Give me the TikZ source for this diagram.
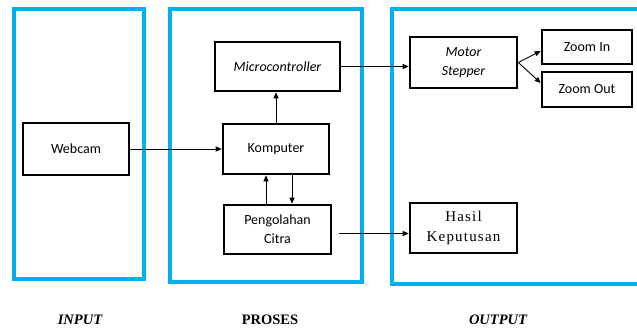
\documentclass[tikz,border=0pt]{standalone}
\usepackage{fontspec}
\setmainfont{Liberation Serif}
\newfontfamily\blokfont{Carlito}
\newfontfamily\hasilfont{Liberation Serif}[LetterSpace=8]
\usetikzlibrary{arrows.meta}
\definecolor{bingkaibiru}{RGB}{0,176,240}

\begin{document}
\begin{tikzpicture}[x=1pt,y=1pt,>={Triangle[length=6pt,width=5pt]},
  bingkai/.style={draw=bingkaibiru,line width=4pt},
  blok/.style={draw,line width=2.6pt,inner sep=0pt,align=center,font=\blokfont\fontsize{14}{19}\selectfont},
  miring/.style={blok,font=\blokfont\itshape\fontsize{14}{19}\selectfont},
  panah/.style={->,line width=0.9pt},
  judul/.style={font=\fontsize{14.5}{16}\selectfont\bfseries}]
  \useasboundingbox (0,0) rectangle (637,333);
  % frames: input, proses, output
  \draw[bingkai] (14,54) rectangle (144,324);
  \draw[bingkai] (170,51) rectangle (362,324);
  \draw[bingkai] (392,49) rectangle (648,324);
  % input
  \node[blok,minimum width=106pt,minimum height=52pt] (webcam) at (76,184) {Webcam};
  % proses
  \node[miring,minimum width=125pt,minimum height=49pt] (micro) at (277.5,266.5) {Microcontroller};
  \node[blok,minimum width=106pt,minimum height=50pt] (komputer) at (276,184) {Komputer};
  \node[blok,minimum width=107pt,minimum height=49pt] (olah) at (277.5,103.5) {Pengolahan\\Citra};
  % output
  \node[miring,minimum width=107pt,minimum height=51pt] (motor) at (463.5,270.5) {Motor\\Stepper};
  \node[blok,minimum width=90pt,minimum height=34pt] (zoomin) at (587,286) {Zoom In};
  \node[blok,minimum width=90pt,minimum height=35pt] (zoomout) at (587,243.5) {Zoom Out};
  \node[blok,minimum width=107pt,minimum height=50pt,font=\hasilfont\fontsize{15}{20}\selectfont] (hasil) at (463.5,105) {Hasil\\Keputusan};
  % arrows
  \draw[panah] (webcam) -- (komputer);
  \draw[panah] (komputer.north) -- (komputer.north |- micro.south);
  \draw[panah] (micro.east) -- (micro.east -| motor.west);
  \draw[panah] (motor.east) -- ([yshift=-4pt]zoomin.west);
  \draw[panah] (motor.east) -- ([yshift=6.5pt]zoomout.west);
  \draw[panah] ([xshift=-11.5pt]olah.north) -- ([xshift=-11.5pt]olah.north |- komputer.south);
  \draw[panah] ([xshift=16pt]komputer.south) -- ([xshift=16pt]komputer.south |- olah.north);
  \draw[panah] ([xshift=7pt,yshift=-4pt]olah.east) -- ([yshift=-4pt]olah.east -| hasil.west);
  % labels
  \node[judul] (lblinput) at (80,13) {\itshape INPUT};
  \node[judul] (lblproses) at (270,13) {PROSES};
  \node[judul] (lbloutput) at (498,13) {\itshape OUTPUT};
\end{tikzpicture}
\end{document}
